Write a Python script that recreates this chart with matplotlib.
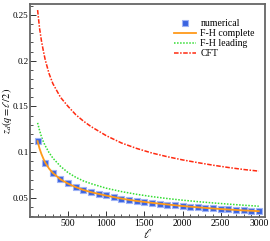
import matplotlib
matplotlib.use("Agg")
import matplotlib.pyplot as plt
import numpy as np

plt.rcParams['font.family'] = ['Liberation Serif', 'DejaVu Serif']
plt.rcParams['mathtext.fontset'] = 'stix'

# numerical data
ell_num = list(range(100, 3001, 100))
z_num = [0.112, 0.0883, 0.0774, 0.0701, 0.0657, 0.0617, 0.0584, 0.0562, 0.0544, 0.0526,
         0.0506, 0.0490, 0.0477, 0.0465, 0.0454, 0.0445, 0.0435, 0.0426, 0.0418, 0.0410,
         0.0403, 0.0396, 0.0389, 0.0383, 0.0378, 0.0373, 0.0368, 0.0364, 0.0360, 0.0356]

# F-H complete
ell_fhc = [100, 125, 150, 175, 200, 250, 300, 400, 500, 600, 700, 800, 1000, 1200, 1400,
           1600, 1800, 2000, 2200, 2400, 2600, 2800, 3000]
z_fhc = [0.112, 0.104, 0.098, 0.093, 0.0885, 0.0820, 0.0772, 0.0702, 0.0655, 0.0617, 0.0586,
         0.0562, 0.0524, 0.0491, 0.0465, 0.0445, 0.0427, 0.0410, 0.0396, 0.0383, 0.0372,
         0.0362, 0.0354]

# F-H leading
ell_fhl = [100, 125, 150, 175, 200, 250, 300, 400, 500, 600, 700, 800, 1000, 1200, 1400,
           1600, 1800, 2000, 2200, 2400, 2600, 2800, 3000]
z_fhl = [0.132, 0.124, 0.117, 0.1115, 0.107, 0.0995, 0.0935, 0.0845, 0.0775, 0.0725, 0.0685,
         0.0655, 0.0605, 0.0568, 0.0538, 0.0513, 0.0492, 0.0474, 0.0458, 0.0444, 0.0431,
         0.0419, 0.0408]

# CFT
ell_cft = [100, 125, 150, 175, 200, 250, 300, 400, 500, 600, 700, 800, 1000, 1200, 1400,
           1600, 1800, 2000, 2200, 2400, 2600, 2800, 3000]
z_cft = [0.2555, 0.236, 0.222, 0.211, 0.201, 0.186, 0.175, 0.160, 0.150, 0.141, 0.134,
         0.128, 0.118, 0.110, 0.104, 0.099, 0.095, 0.0915, 0.0885, 0.0857, 0.0832,
         0.0810, 0.0792]

fig = plt.figure(figsize=(2.70, 2.41), dpi=100)
ax = fig.add_axes([0.111, 0.0996, 0.870, 0.8834])

ax.plot(ell_num, z_num, linestyle='none', marker='s', markersize=4.2,
        color='#3a63e0', markeredgecolor='#9fb3f5', markeredgewidth=0.8, label='numerical', zorder=3)
ax.plot(ell_fhc, z_fhc, color='#ff9a1a', lw=1.3, label='F-H complete', zorder=4)
ax.plot(ell_fhl, z_fhl, color='#33dd33', lw=1.1, linestyle=(0, (1, 1)), label='F-H leading', zorder=2)
ax.plot(ell_cft, z_cft, color='#ff2a10', lw=1.1, linestyle=(0, (3, 1, 1, 1)), label='CFT', zorder=2)

ax.set_xlim(0, 3080)
ax.set_ylim(0.029, 0.262)
ax.set_xticks([500, 1000, 1500, 2000, 2500, 3000])
ax.set_xticks(np.arange(100, 3001, 100), minor=True)
ax.set_yticks([0.05, 0.1, 0.15, 0.2, 0.25])
ax.set_yticklabels(['0.05', '0.1', '0.15', '0.2', '0.25'])
ax.set_yticks(np.arange(0.03, 0.261, 0.01), minor=True)
ax.tick_params(direction='in', which='major', length=4, width=0.7, labelsize=7, color='#333333', pad=1.5)
ax.tick_params(axis='y', which='major', labelsize=6.5, pad=1.0)
ax.tick_params(direction='in', which='minor', length=2, width=0.6, color='#333333')
for s in ax.spines.values():
    s.set_color('#666666')
    s.set_linewidth(1.3)

ax.set_xlabel(r'$\ell$', fontsize=9, labelpad=0)
ax.set_ylabel(r'$z_d(q=\ell/2)$', fontsize=7.5)
ax.yaxis.set_label_coords(-0.068, 0.5)

leg = ax.legend(loc='upper right', bbox_to_anchor=(0.995, 0.97), frameon=False, fontsize=7,
                handlelength=2.2, handletextpad=0.5, labelspacing=0.1, borderaxespad=0.5)

fig.savefig('out.png', dpi=100)
